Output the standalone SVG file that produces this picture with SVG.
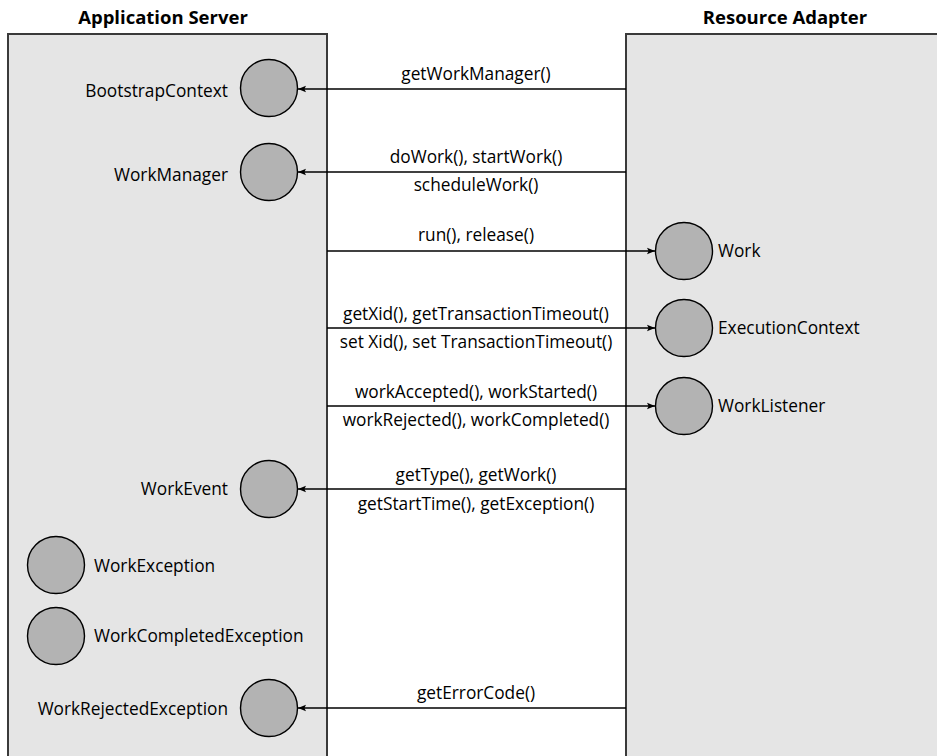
<svg xmlns="http://www.w3.org/2000/svg" width="937" height="756" viewBox="0 0 937 756">
<defs>
<marker id="ah" viewBox="0 0 10 10" refX="10" refY="5" markerWidth="8" markerHeight="8" markerUnits="userSpaceOnUse" orient="auto">
<path d="M0,1 L10,5 L0,9 L2,5 Z" fill="#000"/>
</marker>
</defs>
<style>
.box{fill:#e5e5e5;stroke:#3a3a3a;stroke-width:2}
.c{fill:#b3b3b3;stroke:#000;stroke-width:1.4}
.t{font-family:"Open Sans","Noto Sans",sans-serif;font-size:17.3px;fill:#000}
.h{font-family:"Open Sans","Noto Sans",sans-serif;font-size:18.5px;font-weight:bold;fill:#000}
.l{stroke:#000;stroke-width:1.5;fill:none;marker-end:url(#ah)}
.m{text-anchor:middle}
.e{text-anchor:end}
</style>
<rect width="937" height="756" fill="#fff"/>
<g id="appserver">
<rect class="box" x="8" y="34" width="319" height="740"/>
<text class="h m" x="163" y="24">Application Server</text>
</g>
<g id="resourceadapter">
<rect class="box" x="626" y="34" width="330" height="740"/>
<text class="h m" x="785" y="24">Resource Adapter</text>
</g>
<g id="bootstrapcontext">
<circle class="c" cx="269" cy="88" r="28.5"/>
<text class="t e" x="228" y="97">BootstrapContext</text>
</g>
<g id="workmanager">
<circle class="c" cx="269" cy="172" r="28.5"/>
<text class="t e" x="228" y="181">WorkManager</text>
</g>
<g id="work">
<circle class="c" cx="684" cy="251" r="28.5"/>
<text class="t" x="718" y="257">Work</text>
</g>
<g id="executioncontext">
<circle class="c" cx="684" cy="328" r="28.5"/>
<text class="t" x="718" y="334">ExecutionContext</text>
</g>
<g id="worklistener">
<circle class="c" cx="684" cy="406" r="28.5"/>
<text class="t" x="718" y="412">WorkListener</text>
</g>
<g id="workevent">
<circle class="c" cx="269" cy="489" r="28.5"/>
<text class="t e" x="228" y="495">WorkEvent</text>
</g>
<g id="workexception">
<circle class="c" cx="56" cy="565" r="28.5"/>
<text class="t" x="94" y="572">WorkException</text>
</g>
<g id="workcompletedexception">
<circle class="c" cx="56" cy="636" r="28.5"/>
<text class="t" x="94" y="642">WorkCompletedException</text>
</g>
<g id="workrejectedexception">
<circle class="c" cx="269" cy="708" r="28.5"/>
<text class="t e" x="228" y="715">WorkRejectedException</text>
</g>
<g id="connectors">
<line class="l" x1="626" y1="89" x2="298" y2="89"/>
<text class="t m" x="476" y="80">getWorkManager()</text>
<line class="l" x1="626" y1="172" x2="298" y2="172"/>
<text class="t m" x="476" y="163">doWork(), startWork()</text>
<text class="t m" x="476" y="191">scheduleWork()</text>
<line class="l" x1="327" y1="251" x2="655" y2="251"/>
<text class="t m" x="476" y="241">run(), release()</text>
<line class="l" x1="327" y1="328" x2="655" y2="328"/>
<text class="t m" x="476" y="320">getXid(), getTransactionTimeout()</text>
<text class="t m" x="476" y="348">set Xid(), set TransactionTimeout()</text>
<line class="l" x1="327" y1="406" x2="655" y2="406"/>
<text class="t m" x="476" y="398">workAccepted(), workStarted()</text>
<text class="t m" x="476" y="426">workRejected(), workCompleted()</text>
<line class="l" x1="626" y1="489" x2="298" y2="489"/>
<text class="t m" x="476" y="481">getType(), getWork()</text>
<text class="t m" x="476" y="510">getStartTime(), getException()</text>
<line class="l" x1="626" y1="708" x2="298" y2="708"/>
<text class="t m" x="476" y="699">getErrorCode()</text>
</g>
</svg>
